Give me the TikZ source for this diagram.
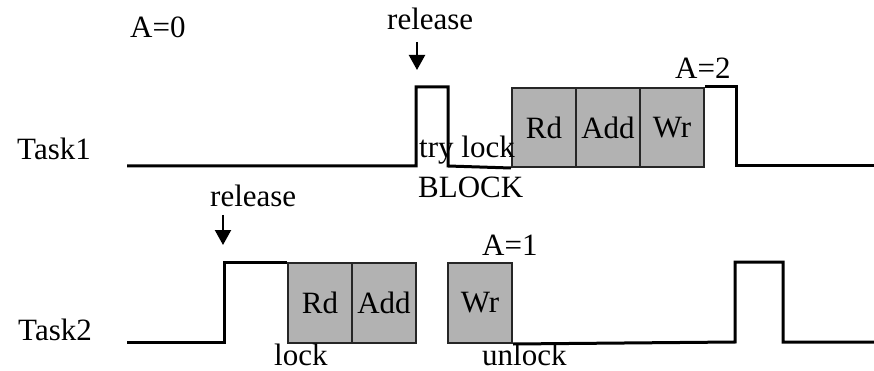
\documentclass[tikz,border=0pt]{standalone}
\usepackage{fontspec}
\setmainfont{Liberation Serif}
\usetikzlibrary{arrows.meta}
\begin{document}
\begin{tikzpicture}[x=1pt,y=-1pt,
  wave/.style={line width=3pt,line join=miter},
  phase/.style={draw=black!85,line width=2pt,fill=black!30,minimum width=64pt,minimum height=79pt,inner sep=0pt,anchor=north west},
  lbl/.style={inner sep=0pt,anchor=base west},
  rel/.style={line width=2.2pt,-{Triangle[length=15pt,width=16pt]}},
  font=\fontsize{31}{36}\selectfont]
\useasboundingbox (0,0) rectangle (874,371);

% task names
\node[lbl] (t1) at (17,160) {Task1};
\node[lbl] (t2) at (18,340) {Task2};

% Task1 critical section
\node[phase] (rd1) at (511,87) {Rd};
\node[phase] (add1) at (575,87) {Add};
\node[phase] (wr1) at (639,87) {Wr};

% Task2 critical section
\node[phase,minimum height=80pt] (rd2) at (287,262) {Rd};
\node[phase,minimum height=80pt] (add2) at (351,262) {Add};
\node[phase,minimum height=80pt] (wr2) at (447,262) {Wr};

% execution traces
\coordinate (s1) at (127,166);
\coordinate (e1) at (874,166);
\coordinate (s2) at (127,342);
\coordinate (e2) at (874,342);
\draw[wave] (s1) -- (416,166) -- (416,87) -- (448,87) -- (448,166) -- (rd1.south west);
\draw[wave] (wr1.north east) -- (736,87) -- (736,166) -- (e1);
\draw[wave] (s2) -- (224,342) -- (224,262) -- (rd2.north west);
\draw[wave] (wr2.south east) -- (735,342) -- (735,262) -- (783,262) -- (783,342) -- (e2);

% annotations
\node[lbl] (a0) at (130,38) {A=0};
\node[lbl] (rel1) at (387,30) {release};
\node[lbl] (try) at (419,158) {try lock};
\node[lbl] (blk) at (418,197) {BLOCK};
\node[lbl] (a2) at (675,79) {A=2};
\node[lbl] (rel2) at (210,207) {release};
\node[lbl] (a1) at (482,255) {A=1};
\node[lbl] (lck) at (274,365) {lock};
\node[lbl] (ulck) at (482,365) {unlock};

% release arrows
\coordinate (r1a) at (417,42);
\coordinate (r1b) at (417,70);
\coordinate (r2a) at (223,215);
\coordinate (r2b) at (223,245);
\draw[rel] (r1a) -- (r1b);
\draw[rel] (r2a) -- (r2b);
\end{tikzpicture}
\end{document}
